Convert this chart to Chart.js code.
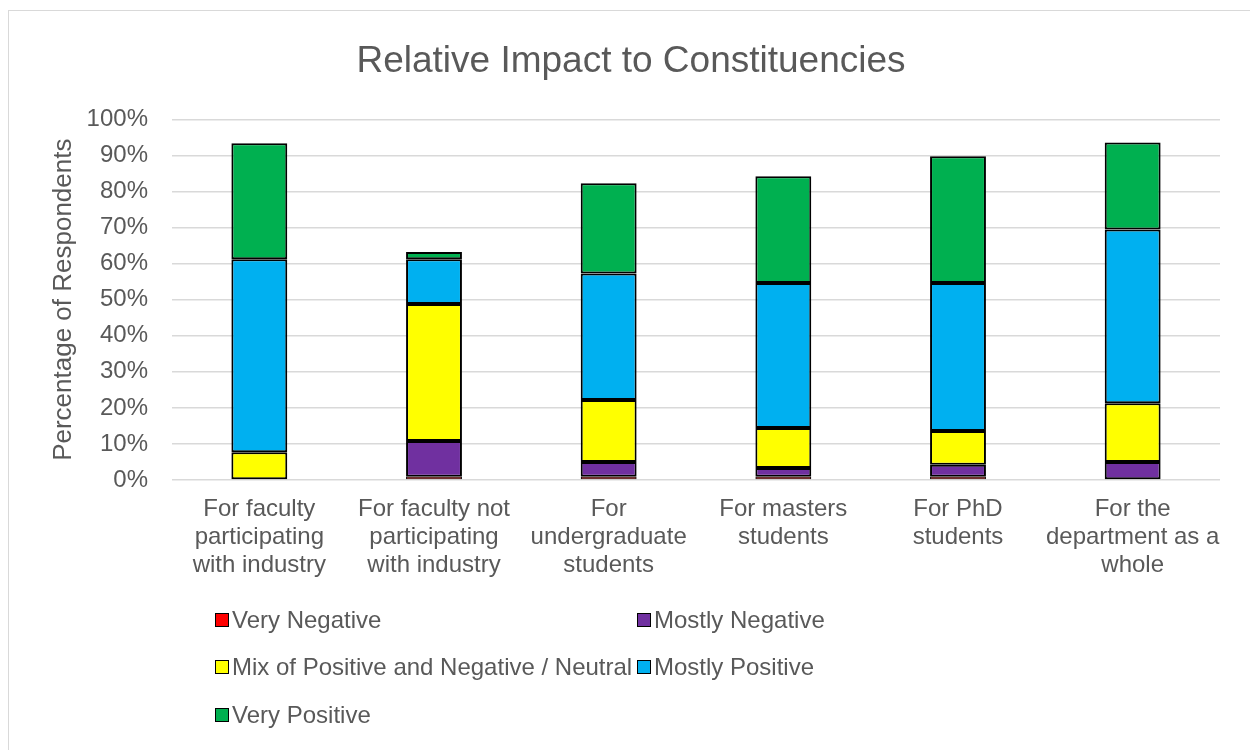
<!DOCTYPE html>
<html>
<head>
<meta charset="utf-8">
<script src="https://cdn.jsdelivr.net/npm/chart.js@4/dist/chart.umd.min.js"></script>
<style>
  body { margin: 0; background: #fff; font-family: "Liberation Sans", Arial, sans-serif; }
  #wrap { position: relative; width: 1250px; height: 750px; overflow: hidden; }
  #frame { position: absolute; left: 8px; top: 10px; width: 1300px; height: 800px; border-left: 1px solid #d9d9d9; border-top: 1px solid #d9d9d9; }
  canvas { position: absolute; left: 0; top: 0; }
  #legend { position: absolute; left: 0; top: 0; }
  .item { position: absolute; display: flex; align-items: center; font-size: 24px; color: #595959; white-space: nowrap; }
  .box { width: 12px; height: 12px; border: 1.5px solid #000; margin-right: 3px; }
</style>
</head>
<body>
<div id="wrap">
  <div id="frame"></div>
  <canvas id="chart" width="1250" height="750"></canvas>
  <div id="legend"></div>
</div>
<script>
const categories = [
  ['For faculty', 'participating', 'with industry'],
  ['For faculty not', 'participating', 'with industry'],
  ['For', 'undergraduate', 'students'],
  ['For masters', 'students'],
  ['For PhD', 'students'],
  ['For the', 'department as a', 'whole']
];
const seriesNames = ['Very Negative', 'Mostly Negative', 'Mix of Positive and Negative / Neutral', 'Mostly Positive', 'Very Positive'];
const seriesColors = ['#ff0000', '#7030a0', '#ffff00', '#00b0f0', '#00b050'];
const veryNegative   = [0,    0.9,  0.9,  0.9,  0.9,  0];
const mostlyNegative = [0,    9.9,  4.1,  2.4,  3.3,  5.0];
const mixedNeutral   = [7.7,  38.0, 17.2, 11.1, 9.4,  16.3];
const mostlyPositive = [53.5, 12.4, 35.1, 40.2, 41.0, 48.2];
const veryPositive   = [32.2, 2.0,  25.0, 29.6, 35.2, 24.1];
const yTicks = [0, 10, 20, 30, 40, 50, 60, 70, 80, 90, 100];

const seriesValues = [veryNegative, mostlyNegative, mixedNeutral, mostlyPositive, veryPositive];
const textColor = '#595959';
const font = { family: '"Liberation Sans", Arial, sans-serif', size: 24 };

const datasets = seriesNames.map((name, i) => ({
  label: name,
  data: seriesValues[i],
  backgroundColor: seriesColors[i],
  borderColor: '#000',
  borderWidth: c => (c.raw > 0 ? (i === 0 ? 1 : 2) : 0),
  borderSkipped: false,
  categoryPercentage: 1,
  barPercentage: 0.32
}));

new Chart(document.getElementById('chart'), {
  type: 'bar',
  data: { labels: categories, datasets },
  options: {
    responsive: false,
    animation: false,
    layout: { padding: { top: 0, right: 30, bottom: 160, left: 42 } },
    plugins: {
      legend: { display: false },
      tooltip: { enabled: false },
      title: {
        display: true,
        text: 'Relative Impact to Constituencies',
        color: textColor,
        font: { family: font.family, size: 37, weight: 'normal' },
        padding: { top: 40, bottom: 35 }
      }
    },
    scales: {
      x: {
        stacked: true,
        grid: { display: false },
        border: { display: false },
        ticks: { color: textColor, font: { ...font, lineHeight: 1.15 }, maxRotation: 0, autoSkip: false, padding: 8 },
        afterFit: s => { s.height = 110; }
      },
      y: {
        stacked: true,
        min: 0,
        max: 100,
        afterBuildTicks: s => { s.ticks = yTicks.map(v => ({ value: v })); },
        grid: { color: '#d9d9d9', lineWidth: 1.5, drawTicks: false },
        border: { display: false },
        ticks: { color: textColor, font, padding: 24, callback: v => v + '%' },
        title: {
          display: true,
          text: 'Percentage of Respondents',
          color: textColor,
          font: { family: font.family, size: 26 },
          padding: { top: 6, bottom: 0 }
        },
        afterFit: s => { s.width = 130; }
      }
    }
  }
});

// legend in two columns, built from the datasets
const legendPos = [[215, 620], [637, 620], [215, 667], [637, 667], [215, 715]];
const legend = document.getElementById('legend');
datasets.forEach((d, i) => {
  const el = document.createElement('div');
  el.className = 'item';
  el.style.left = legendPos[i][0] + 'px';
  el.style.top = (legendPos[i][1] - 14) + 'px';
  el.innerHTML = '<span class="box" style="background:' + d.backgroundColor + '"></span>' + d.label;
  legend.appendChild(el);
});
</script>
</body>
</html>
